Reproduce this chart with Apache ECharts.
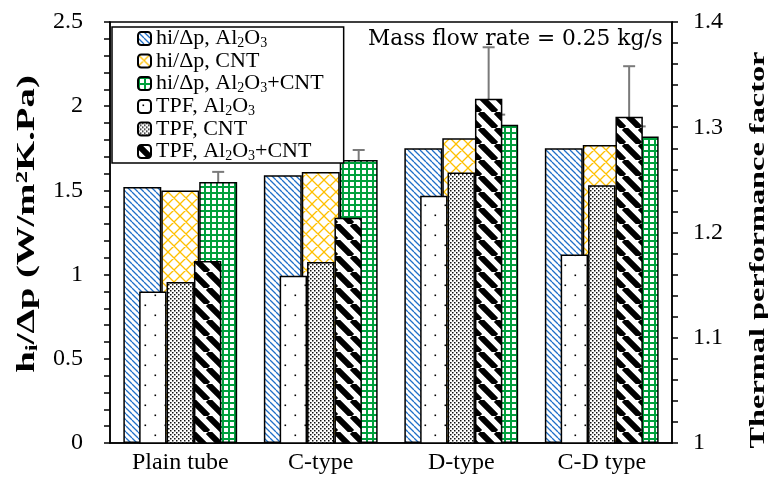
<!DOCTYPE html>
<html><head><meta charset="utf-8">
<script src="https://cdn.jsdelivr.net/npm/echarts@6/dist/echarts.min.js"></script>
<style>html,body{margin:0;padding:0;background:#fff}#c{width:768px;height:487px}</style>
</head><body><div id="c"></div>
<script>
// ---------- data ----------
const categories = ['Plain tube', 'C-type', 'D-type', 'C-D type'];
const hiAl2O3   = [1.52, 1.59, 1.75, 1.75];
const hiCNT     = [1.50, 1.61, 1.81, 1.77];
const hiHybrid  = [1.55, 1.68, 1.89, 1.82];
const hiHybridErr = [0.06, 0.06, 0.06, 0.06];
const tpfAl2O3  = [1.144, 1.159, 1.235, 1.179];
const tpfCNT    = [1.153, 1.172, 1.257, 1.245];
const tpfHybrid = [1.173, 1.214, 1.327, 1.310];
const tpfHybridErr = [0.049, 0.048, 0.049, 0.048];
const seriesNames = ['hi/Δp, Al2O3', 'hi/Δp, CNT', 'hi/Δp, Al2O3+CNT', 'TPF, Al2O3', 'TPF, CNT', 'TPF, Al2O3+CNT'];
const legendLabels = [
  '{n|hi/Δp, Al}{s|2}{n|O}{s|3}',
  '{n|hi/Δp, CNT}',
  '{n|hi/Δp, Al}{s|2}{n|O}{s|3}{n|+CNT}',
  '{n|TPF, Al}{s|2}{n|O}{s|3}',
  '{n|TPF, CNT}',
  '{n|TPF, Al}{s|2}{n|O}{s|3}{n|+CNT}'
];
const noteText = 'Mass flow rate = 0.25 kg/s';
const leftTitle = '{b|h}{bs|i}{b|/Δp (W/m}{bp|2}{b|K.Pa)}';
const rightTitle = 'Thermal performance factor';

// ---------- patterns ----------
const SERIF = '"Liberation Serif", "Times New Roman", serif';
function pat(w, h, draw) {
  const c = document.createElement('canvas');
  c.width = w; c.height = h;
  const g = c.getContext('2d');
  g.fillStyle = '#fff'; g.fillRect(0, 0, w, h);
  draw(g, w, h);
  return { image: c, repeat: 'repeat' };
}
function diag(g, s, color, lw) {
  g.strokeStyle = color; g.lineWidth = lw; g.beginPath();
  for (const k of [-s, 0, s]) { g.moveTo(k, 0); g.lineTo(k + s, s); }
  g.stroke();
}
const pBlue = pat(6, 6, (g) => diag(g, 6, '#1f6fc8', 1.3));
const pYellow = pat(12, 12, (g) => {
  g.strokeStyle = '#ffc000'; g.lineWidth = 1.3; g.beginPath();
  for (const k of [-12, 0, 12]) { g.moveTo(k, 0); g.lineTo(k + 12, 12); g.moveTo(k + 12, 0); g.lineTo(k, 12); }
  g.stroke();
});
const pGreen = pat(6, 6, (g) => { g.fillStyle = '#00a03c'; g.fillRect(0, 0, 2, 6); g.fillRect(0, 0, 6, 2); });
const pSparse = pat(20, 20, (g) => { g.fillStyle = '#000'; g.fillRect(4.5, 4.5, 1.6, 1.6); g.fillRect(14.5, 14.5, 1.6, 1.6); });
const pDense = pat(4, 4, (g) => { g.fillStyle = '#111'; g.fillRect(0, 0, 1.5, 1.5); g.fillRect(2, 2, 1.5, 1.5); });
const pStripe = pat(16, 16, (g) => diag(g, 16, '#000', 6));

// ---------- chart ----------
const chart = echarts.init(document.getElementById('c'), null, { renderer: 'canvas' });
const border = { borderColor: '#000', borderWidth: 1.5 };
const HIW = 0.27, TPFW = 0.195;

function bar(name, xi, yi, data, fill, w) {
  return { name, type: 'bar', xAxisIndex: xi, yAxisIndex: yi, data, barWidth: (w * 100) + '%', barGap: '0%',
    z: 2, itemStyle: Object.assign({ color: fill }, border), emphasis: { disabled: true } };
}
function errSeries(xi, yi, vals, errs, offFrac) {
  return {
    type: 'custom', xAxisIndex: xi, yAxisIndex: yi, z: 2, silent: true,
    data: vals.map((v, i) => [i, v, errs[i]]),
    renderItem(params, api) {
      const i = api.value(0), v = api.value(1), e = api.value(2);
      const band = api.size([1, 0])[0];
      const t = api.coord([i, v + e]), b = api.coord([i, v - e]);
      const cx = t[0] + offFrac * band, hw = 6;
      const st = { stroke: '#7a7a7a', lineWidth: 2 };
      return { type: 'group', children: [
        { type: 'line', shape: { x1: cx, y1: t[1], x2: cx, y2: b[1] }, style: st },
        { type: 'line', shape: { x1: cx - hw, y1: t[1], x2: cx + hw, y2: t[1] }, style: st },
        { type: 'line', shape: { x1: cx - hw, y1: b[1], x2: cx + hw, y2: b[1] }, style: st }
      ] };
    }
  };
}
const tickStyle = { color: '#000', width: 1.5 };
function yAx(min, max, interval, pos, margin) {
  return {
    type: 'value', min, max, interval, position: pos,
    axisLine: { show: true, lineStyle: tickStyle },
    axisTick: { show: true, length: 6, lineStyle: tickStyle },
    minorTick: { show: true, splitNumber: 5, length: 6, lineStyle: tickStyle },
    splitLine: { show: false },
    axisLabel: { color: '#000', fontFamily: SERIF, fontSize: 24, margin }
  };
}

const option = {
  animation: false,
  backgroundColor: '#fff',
  grid: { left: 110, right: 96, top: 22, bottom: 44, show: true, borderColor: '#000', borderWidth: 1.5, backgroundColor: 'transparent' },
  xAxis: [
    { type: 'category', data: categories, axisLine: { lineStyle: tickStyle }, axisTick: { show: false },
      axisLabel: { color: '#000', fontFamily: SERIF, fontSize: 24, margin: 8 } },
    { type: 'category', data: categories, show: false }
  ],
  yAxis: [yAx(0, 2.5, 0.5, 'left', 27), yAx(1, 1.4, 0.1, 'right', 21)],
  legend: {
    data: seriesNames, orient: 'vertical', left: 112, top: 27, padding: [0, 20, 0, 25], itemGap: 0,
    itemWidth: 13, itemHeight: 13, backgroundColor: '#fff', borderColor: '#000', borderWidth: 1.5,
    selectedMode: false,
    formatter: (n) => legendLabels[seriesNames.indexOf(n)],
    textStyle: { color: '#000', fontFamily: SERIF, fontSize: 22,
      rich: { n: { fontFamily: SERIF, fontSize: 22, lineHeight: 21, color: '#000' },
              s: { fontFamily: SERIF, fontSize: 14, lineHeight: 12, padding: [9, 0, 0, 0], color: '#000' } } }
  },
  graphic: [
    { type: 'text', x: 28, y: 224, rotation: Math.PI / 2, scaleX: 1.55, silent: true,
      style: { text: leftTitle, align: 'center', verticalAlign: 'middle', fill: '#000',
        rich: { b: { fontFamily: SERIF, fontWeight: 'bold', fontSize: 25, color: '#000' },
                bs: { fontFamily: SERIF, fontWeight: 'bold', fontSize: 16, padding: [10, 0, 0, 0], color: '#000' },
                bp: { fontFamily: SERIF, fontWeight: 'bold', fontSize: 16, padding: [0, 0, 10, 0], color: '#000' } } } },
    { type: 'text', x: 758, y: 250, rotation: Math.PI / 2, scaleX: 1.47, silent: true,
      style: { text: rightTitle, align: 'center', verticalAlign: 'middle', fill: '#000',
        font: 'bold 22px ' + SERIF } },
    { type: 'text', x: 368, y: 39, silent: true, z: 10,
      style: { text: noteText, align: 'left', verticalAlign: 'middle', fill: '#000', font: '21.7px "DejaVu Serif"' } }
  ],
  series: [
    bar(seriesNames[0], 0, 0, hiAl2O3, pBlue, HIW),
    bar(seriesNames[1], 0, 0, hiCNT, pYellow, HIW),
    bar(seriesNames[2], 0, 0, hiHybrid, pGreen, HIW),
    errSeries(0, 0, hiHybrid, hiHybridErr, HIW),
    bar(seriesNames[3], 1, 1, tpfAl2O3, pSparse, TPFW),
    bar(seriesNames[4], 1, 1, tpfCNT, pDense, TPFW),
    bar(seriesNames[5], 1, 1, tpfHybrid, pStripe, TPFW),
    errSeries(1, 1, tpfHybrid, tpfHybridErr, TPFW)
  ]
};
chart.setOption(option);
</script></body></html>
